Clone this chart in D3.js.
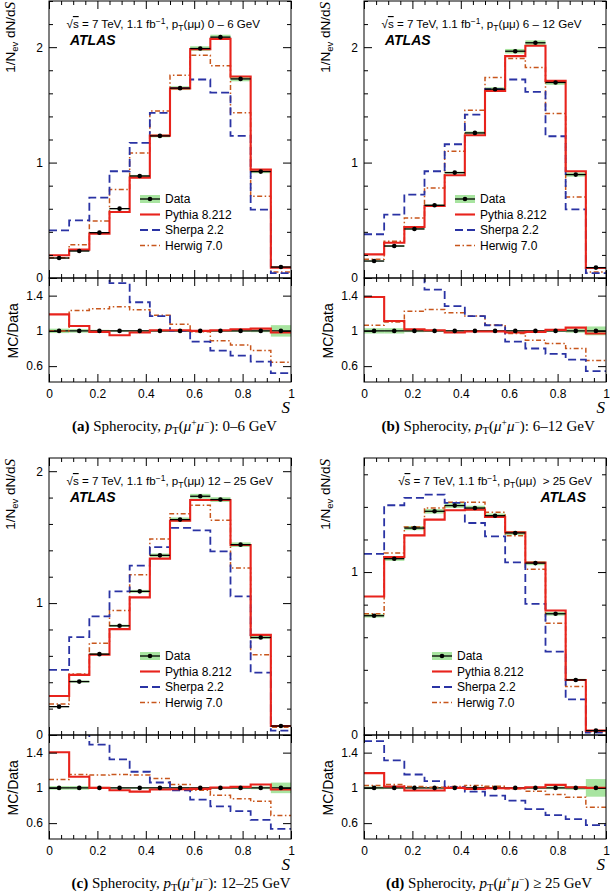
<!DOCTYPE html>
<html><head><meta charset="utf-8">
<script src="https://cdn.jsdelivr.net/npm/d3@7"></script>
<style>body{margin:0;background:#fff} svg{display:block}</style>
</head><body><svg id="c" width="610" height="892"></svg>
<script>
// ---------------- DATA ----------------
const binEdges = [0, 0.0833, 0.1667, 0.25, 0.3333, 0.4167, 0.5, 0.5833, 0.6667, 0.75, 0.8333, 0.9167, 1];
const seriesNames = ["Data", "Pythia 8.212", "Sherpa 2.2", "Herwig 7.0"];
const headerRanges = ["0 \u2013 6 GeV", "6 \u2013 12 GeV", "12 \u2013 25 GeV", "\u00a0> 25 GeV"];
const captionLetters = ["(a)", "(b)", "(c)", "(d)"];
const captionRanges = [": 0\u20136 GeV", ": 6\u201312 GeV", ": 12\u201325 GeV", " \u2265 25 GeV"];
const mainYTicksAB = [0, 1, 2];
const mainYTicksC = [0, 1, 2];
const mainYTicksD = [0, 1];
const ratioYTicks = [0.6, 1, 1.4];
const xTicks = [0, 0.2, 0.4, 0.6, 0.8, 1];

// panel (a) pT 0-6 GeV
const dataA   = [0.173, 0.234, 0.393, 0.601, 0.884, 1.231, 1.645, 1.988, 2.087, 1.725, 0.922, 0.095];
const pythiaA = [0.197, 0.246, 0.384, 0.572, 0.870, 1.234, 1.642, 1.983, 2.072, 1.746, 0.939, 0.090];
const sherpaA = [0.413, 0.500, 0.697, 0.925, 1.171, 1.431, 1.645, 1.720, 1.607, 1.231, 0.592, 0.043];
const herwigA = [0.175, 0.289, 0.494, 0.766, 1.084, 1.448, 1.757, 1.931, 1.838, 1.431, 0.708, 0.052];
const rPythiaA = [1.187, 1.056, 0.989, 0.951, 0.981, 1.007, 1.007, 1.000, 1.007, 1.019, 1.026, 0.981];
const rSherpaA = [2.39, 2.14, 1.77, 1.542, 1.325, 1.168, 1.000, 0.877, 0.776, 0.720, 0.652, 0.520];
const rHerwigA = [1.000, 1.232, 1.250, 1.275, 1.240, 1.176, 1.075, 0.990, 0.888, 0.840, 0.776, 0.645];
const errA = [0.025, 0.02, 0.012, 0.01, 0.01, 0.01, 0.01, 0.01, 0.01, 0.012, 0.015, 0.065];

// panel (b) pT 6-12 GeV
const dataB   = [0.147, 0.277, 0.425, 0.630, 0.913, 1.257, 1.636, 1.965, 2.038, 1.694, 0.896, 0.090];
const pythiaB = [0.205, 0.306, 0.442, 0.624, 0.890, 1.237, 1.621, 1.922, 2.012, 1.708, 0.925, 0.087];
const sherpaB = [0.379, 0.549, 0.723, 0.925, 1.159, 1.416, 1.636, 1.720, 1.613, 1.228, 0.595, 0.043];
const herwigB = [0.162, 0.318, 0.520, 0.780, 1.098, 1.454, 1.737, 1.902, 1.824, 1.425, 0.702, 0.052];
const rPythiaB = [1.385, 1.112, 1.019, 1.007, 0.981, 0.993, 0.993, 0.981, 0.989, 1.011, 1.037, 0.970];
const rSherpaB = [2.58, 1.98, 1.70, 1.467, 1.280, 1.168, 1.064, 0.877, 0.800, 0.738, 0.675, 0.544];
const rHerwigB = [1.064, 1.100, 1.224, 1.243, 1.206, 1.168, 1.067, 0.970, 0.895, 0.858, 0.800, 0.664];
const errB = [0.03, 0.03, 0.015, 0.012, 0.01, 0.01, 0.01, 0.01, 0.01, 0.012, 0.02, 0.05];

// panel (c) pT 12-25 GeV
const dataC   = [0.215, 0.405, 0.613, 0.828, 1.089, 1.362, 1.633, 1.810, 1.785, 1.443, 0.739, 0.068];
const pythiaC = [0.296, 0.456, 0.608, 0.803, 1.043, 1.337, 1.625, 1.782, 1.782, 1.441, 0.759, 0.068];
const sherpaC = [0.494, 0.742, 0.899, 1.089, 1.284, 1.425, 1.570, 1.552, 1.392, 1.051, 0.473, 0.033];
const herwigC = [0.235, 0.463, 0.696, 0.944, 1.215, 1.486, 1.678, 1.742, 1.628, 1.266, 0.608, 0.058];
const rPythiaC = [1.405, 1.126, 1.000, 0.973, 0.958, 0.981, 0.985, 0.989, 1.004, 1.011, 1.038, 0.981];
const rSherpaC = [2.30, 1.83, 1.490, 1.324, 1.183, 1.061, 0.973, 0.866, 0.790, 0.737, 0.637, 0.534];
const rHerwigC = [1.095, 1.153, 1.145, 1.153, 1.145, 1.107, 1.038, 0.973, 0.916, 0.878, 0.847, 0.687];
const errC = [0.02, 0.02, 0.012, 0.01, 0.01, 0.01, 0.01, 0.01, 0.01, 0.012, 0.015, 0.06];

// panel (d) pT > 25 GeV
const dataD   = [0.732, 1.082, 1.270, 1.373, 1.408, 1.393, 1.346, 1.240, 1.055, 0.744, 0.338, 0.027];
const pythiaD = [0.850, 1.092, 1.225, 1.322, 1.379, 1.383, 1.338, 1.244, 1.059, 0.764, 0.338, 0.027];
const sherpaD = [1.111, 1.410, 1.455, 1.475, 1.424, 1.301, 1.219, 1.059, 0.805, 0.512, 0.219, 0.014];
const herwigD = [0.744, 1.117, 1.277, 1.393, 1.428, 1.428, 1.367, 1.223, 1.018, 0.686, 0.297, 0.020];
const rPythiaD = [1.168, 1.015, 0.970, 0.970, 1.000, 0.989, 0.996, 0.996, 1.008, 1.034, 1.008, 1.000];
const rSherpaD = [1.530, 1.312, 1.152, 1.076, 1.008, 0.958, 0.912, 0.855, 0.760, 0.691, 0.646, 0.577];
const rHerwigD = [1.027, 1.038, 1.015, 1.008, 1.015, 1.027, 1.019, 0.989, 0.962, 0.924, 0.893, 0.779];
const errD = [0.015, 0.012, 0.01, 0.01, 0.01, 0.01, 0.01, 0.01, 0.012, 0.015, 0.02, 0.1];

// ---------------- STYLE / LAYOUT ----------------
const COL = {pythia: "#e8231c", sherpa: "#2a33a4", herwig: "#c8561c", band: "#a8e4a0", data: "#000"};
const SANS = "'Liberation Sans', Arial, Helvetica, sans-serif";
const SERIF = "'Liberation Serif', 'Times New Roman', serif";
const W = 242, H = 277, RH = 104;

const panels = [
  {id: 0, left: 49, top: 1, ymax: 2.4, yMaj: mainYTicksAB, data: dataA, py: pythiaA, sh: sherpaA, hw: herwigA, rpy: rPythiaA, rsh: rSherpaA, rhw: rHerwigA, err: errA, right: false, legX: 91, capX: 72},
  {id: 1, left: 364, top: 1, ymax: 2.4, yMaj: mainYTicksAB, data: dataB, py: pythiaB, sh: sherpaB, hw: herwigB, rpy: rPythiaB, rsh: rSherpaB, rhw: rHerwigB, err: errB, right: false, legX: 91, capX: 381.5},
  {id: 2, left: 49, top: 458, ymax: 2.1, yMaj: mainYTicksC, data: dataC, py: pythiaC, sh: sherpaC, hw: herwigC, rpy: rPythiaC, rsh: rSherpaC, rhw: rHerwigC, err: errC, right: false, legX: 91, capX: 71.5},
  {id: 3, left: 364, top: 458, ymax: 1.7, yMaj: mainYTicksD, data: dataD, py: pythiaD, sh: sherpaD, hw: herwigD, rpy: rPythiaD, rsh: rSherpaD, rhw: rHerwigD, err: errD, right: true, legX: 68, capX: 386}
];

const svg = d3.select("#c");
const defs = svg.append("defs");

function stepPts(vals) {
  return binEdges.map((e, i) => [e, vals[Math.min(i, vals.length - 1)]]);
}

function styleSeries(sel, key) {
  sel.attr("fill", "none").attr("stroke", COL[key]);
  if (key === "pythia") sel.attr("stroke-width", 2.1);
  if (key === "sherpa") sel.attr("stroke-width", 1.8).attr("stroke-dasharray", "8,4");
  if (key === "herwig") sel.attr("stroke-width", 1.5).attr("stroke-dasharray", "5,2.5,1.5,2.5");
  return sel;
}

function drawPanel(p) {
  const g = svg.append("g").attr("transform", `translate(${p.left},${p.top})`);
  const x = d3.scaleLinear().domain([0, 1]).range([0, W]);
  const y = d3.scaleLinear().domain([0, p.ymax]).range([H, 0]);
  const yr = d3.scaleLinear().domain([0.42, 1.6]).range([H + RH, H]);

  defs.append("clipPath").attr("id", "cm" + p.id).append("rect").attr("x", 0).attr("y", 0).attr("width", W).attr("height", H);
  defs.append("clipPath").attr("id", "cr" + p.id).append("rect").attr("x", 0).attr("y", H).attr("width", W).attr("height", RH);

  const bins = p.data.map((v, i) => ({i, x0: binEdges[i], x1: binEdges[i + 1], v, e: p.err[i]}));

  // ---- main panel ----
  const gm = g.append("g").attr("clip-path", `url(#cm${p.id})`);
  gm.selectAll("rect.band").data(bins).join("rect")
    .attr("x", d => x(d.x0)).attr("width", d => x(d.x1) - x(d.x0))
    .attr("y", d => y(d.v * (1 + d.e))).attr("height", d => y(d.v * (1 - d.e)) - y(d.v * (1 + d.e)))
    .attr("fill", COL.band);
  const lineM = d3.line().x(d => x(d[0])).y(d => y(d[1])).curve(d3.curveStepAfter);
  styleSeries(gm.append("path").attr("d", lineM(stepPts(p.hw))), "herwig");
  styleSeries(gm.append("path").attr("d", lineM(stepPts(p.sh))), "sherpa");
  styleSeries(gm.append("path").attr("d", lineM(stepPts(p.py))), "pythia");
  gm.selectAll("line.xerr").data(bins).join("line")
    .attr("x1", d => x(d.x0)).attr("x2", d => x(d.x1)).attr("y1", d => y(d.v)).attr("y2", d => y(d.v))
    .attr("stroke", "#000").attr("stroke-width", 1.3);
  gm.selectAll("circle").data(bins).join("circle")
    .attr("cx", d => x((d.x0 + d.x1) / 2)).attr("cy", d => y(d.v)).attr("r", 2.3).attr("fill", "#000");

  // ---- ratio panel ----
  const gr = g.append("g").attr("clip-path", `url(#cr${p.id})`);
  gr.selectAll("rect.band").data(bins).join("rect")
    .attr("x", d => x(d.x0)).attr("width", d => x(d.x1) - x(d.x0))
    .attr("y", d => yr(1 + d.e)).attr("height", d => yr(1 - d.e) - yr(1 + d.e))
    .attr("fill", COL.band);
  gr.append("line").attr("x1", 0).attr("x2", W).attr("y1", yr(1)).attr("y2", yr(1)).attr("stroke", "#000").attr("stroke-width", 1.3);
  const lineR = d3.line().x(d => x(d[0])).y(d => yr(d[1])).curve(d3.curveStepAfter);
  styleSeries(gr.append("path").attr("d", lineR(stepPts(p.rhw))), "herwig");
  styleSeries(gr.append("path").attr("d", lineR(stepPts(p.rsh))), "sherpa");
  styleSeries(gr.append("path").attr("d", lineR(stepPts(p.rpy))), "pythia");
  gr.selectAll("circle").data(bins).join("circle")
    .attr("cx", d => x((d.x0 + d.x1) / 2)).attr("cy", yr(1)).attr("r", 2.3).attr("fill", "#000");

  // ---- frames ----
  g.append("rect").attr("x", 0).attr("y", 0).attr("width", W).attr("height", H).attr("fill", "none").attr("stroke", "#000").attr("stroke-width", 1);
  g.append("rect").attr("x", 0).attr("y", H).attr("width", W).attr("height", RH).attr("fill", "none").attr("stroke", "#000").attr("stroke-width", 1);

  // ---- axes / ticks ----
  const xMinor = d3.range(0, 1.0001, 0.05).filter(v => Math.abs(v * 5 - Math.round(v * 5)) > 1e-6);
  const yMinor = d3.range(0, p.ymax + 1e-6, 0.2).filter(v => Math.abs(v - Math.round(v)) > 1e-6);
  function ax(gen, tr, vals, size, labels) {
    const a = g.append("g").attr("transform", tr)
      .call(gen.tickValues(vals).tickSize(size).tickPadding(labels ? 5 : 0).tickFormat(labels ? labels : () => ""));
    a.select(".domain").remove();
    a.selectAll("line").attr("stroke", "#000").attr("stroke-width", 1);
    a.selectAll("text").attr("font-family", SANS).attr("font-size", 12).attr("fill", "#000");
    return a;
  }
  // main x
  ax(d3.axisBottom(x), `translate(0,${H})`, xTicks, -8, null);
  ax(d3.axisBottom(x), `translate(0,${H})`, xMinor, -4, null);
  ax(d3.axisTop(x), `translate(0,0)`, xTicks, -8, null);
  ax(d3.axisTop(x), `translate(0,0)`, xMinor, -4, null);
  // main y
  ax(d3.axisLeft(y), `translate(0,0)`, p.yMaj, -8, d => d3.format("d")(d)).selectAll("text").attr("x", -6);
  ax(d3.axisLeft(y), `translate(0,0)`, yMinor, -4, null);
  ax(d3.axisRight(y), `translate(${W},0)`, p.yMaj, -8, null);
  ax(d3.axisRight(y), `translate(${W},0)`, yMinor, -4, null);
  // ratio x
  ax(d3.axisTop(x), `translate(0,${H})`, xTicks, -8, null);
  ax(d3.axisTop(x), `translate(0,${H})`, xMinor, -4, null);
  ax(d3.axisBottom(x), `translate(0,${H + RH})`, xTicks, -8, d => d3.format("")(d)).selectAll("text").attr("y", 7);
  ax(d3.axisBottom(x), `translate(0,${H + RH})`, xMinor, -4, null);
  // ratio y
  ax(d3.axisLeft(yr), `translate(0,0)`, ratioYTicks, -8, d => d3.format("")(d)).selectAll("text").attr("x", -6);
  ax(d3.axisRight(yr), `translate(${W},0)`, ratioYTicks, -8, null);

  // ---- axis titles ----
  const yl = g.append("text").attr("transform", `translate(-34.5,1) rotate(-90)`)
    .attr("text-anchor", "end").attr("font-family", SANS).attr("font-size", 13.5).attr("fill", "#000");
  yl.append("tspan").text("1/N");
  yl.append("tspan").attr("font-size", 9.5).attr("dy", 3).text("ev");
  yl.append("tspan").attr("dy", -3).text(" dN/d");
  yl.append("tspan").attr("font-family", SERIF).attr("font-style", "italic").attr("font-size", 15).text("S");

  g.append("text").attr("transform", `translate(-31.5,${yr(1)}) rotate(-90)`)
    .attr("text-anchor", "middle").attr("font-family", SANS).attr("font-size", 14).attr("fill", "#000").text("MC/Data");

  g.append("text").attr("x", W - 1).attr("y", H + RH + 31).attr("text-anchor", "end")
    .attr("font-family", SERIF).attr("font-style", "italic").attr("font-size", 17).attr("fill", "#000").text("S");

  // ---- header ----
  const ht = g.append("text").attr("font-family", SANS).attr("font-size", 11.6).attr("fill", "#000")
    .attr("y", 27);
  if (p.right) ht.attr("x", W - 14).attr("text-anchor", "end"); else ht.attr("x", 17.5);
  ht.append("tspan").text("\u221A");
  ht.append("tspan").attr("text-decoration", "overline").style("text-decoration", "overline").text("s");
  ht.append("tspan").text(" = 7 TeV, 1.1 fb");
  ht.append("tspan").attr("font-size", 8.5).attr("dy", -4).text("\u22121");
  ht.append("tspan").attr("dy", 4).text(", p");
  ht.append("tspan").attr("font-size", 8.5).attr("dy", 2.5).text("T");
  ht.append("tspan").attr("dy", -2.5).text("(\u03BC\u03BC) " + headerRanges[p.id]);

  const at = g.append("text").attr("font-family", SANS).attr("font-size", 14).attr("font-weight", "bold")
    .attr("font-style", "italic").attr("fill", "#000").attr("y", 43.5).text("ATLAS");
  if (p.right) at.attr("x", W - 20).attr("text-anchor", "end"); else at.attr("x", 21);

  // ---- legend ----
  const rowsY = [198, 213.5, 229, 244.5];
  const lg = g.append("g").attr("transform", `translate(${p.legX},0)`);
  lg.append("rect").attr("x", 0).attr("y", rowsY[0] - 4).attr("width", 20).attr("height", 8).attr("fill", COL.band);
  lg.append("line").attr("x1", 0).attr("x2", 20).attr("y1", rowsY[0]).attr("y2", rowsY[0]).attr("stroke", "#000").attr("stroke-width", 1.3);
  lg.append("circle").attr("cx", 10).attr("cy", rowsY[0]).attr("r", 2.3).attr("fill", "#000");
  ["pythia", "sherpa", "herwig"].forEach((k, j) => {
    styleSeries(lg.append("line").attr("x1", 0).attr("x2", 20).attr("y1", rowsY[j + 1]).attr("y2", rowsY[j + 1]), k);
  });
  seriesNames.forEach((n, j) => {
    lg.append("text").attr("x", 25).attr("y", rowsY[j] + 4.3).attr("font-family", SANS).attr("font-size", 12)
      .attr("fill", "#000").text(n);
  });

  // ---- caption ----
  const ct = svg.append("text").attr("x", p.capX).attr("y", p.top + H + RH + 49).attr("font-family", SERIF)
    .attr("font-size", 15).attr("fill", "#000");
  ct.append("tspan").attr("font-weight", "bold").text(captionLetters[p.id]);
  ct.append("tspan").text(" Spherocity, ");
  ct.append("tspan").attr("font-style", "italic").text("p");
  ct.append("tspan").attr("font-size", 10.5).attr("dy", 3).text("T");
  ct.append("tspan").attr("dy", -3).text("(");
  ct.append("tspan").attr("font-style", "italic").text("\u03BC");
  ct.append("tspan").attr("font-size", 9.5).attr("dy", -5).text("+");
  ct.append("tspan").attr("dy", 5).attr("font-style", "italic").text("\u03BC");
  ct.append("tspan").attr("font-size", 9.5).attr("dy", -5).text("\u2212");
  ct.append("tspan").attr("dy", 5).text(")" + captionRanges[p.id]);
}

panels.forEach(drawPanel);
</script>
</body></html>
